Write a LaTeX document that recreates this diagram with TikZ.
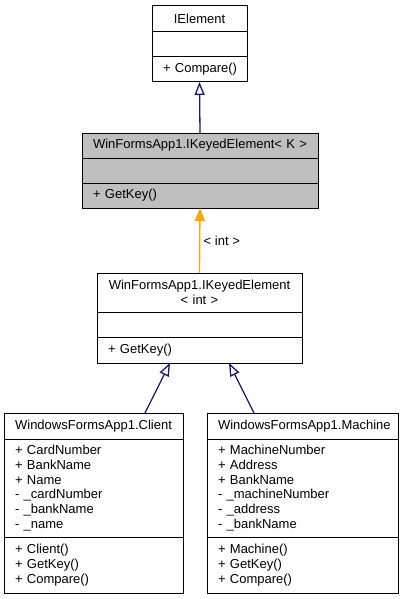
\documentclass[tikz,border=0pt]{standalone}
\usepackage{fontspec}
\setmainfont{Liberation Sans}
\usepackage{xcolor}
\usetikzlibrary{positioning, arrows.meta}
\definecolor{inheritblue}{HTML}{191970}
\definecolor{bindorange}{HTML}{FFA500}
\definecolor{tmplgray}{HTML}{BFBFBF}
\hyphenpenalty=10000

\begin{document}
\begin{tikzpicture}[x=1pt, y=-1pt, font=\fontsize{13}{14.7}\selectfont,
    box/.style={draw, fill=white, line width=1pt, outer sep=0pt, inner xsep=11pt, inner ysep=1pt, text width=#1},
    title/.style={box=#1, align=center},
    part/.style={box=#1, align=left},
    inherit/.style={draw=inheritblue, line width=1.3pt, -{Triangle[open, length=13pt, width=10pt]}},
    bind/.style={draw=bindorange, line width=1.3pt, -{Triangle[length=13pt, width=10pt]}}]
  \useasboundingbox (0,0) rectangle (408,599);

  % interface on top
  \node[title=73pt, minimum height=26pt, anchor=north] (ielem) at (199.5,6) {IElement};
  \node[part=73pt, minimum height=25pt, below=0pt of ielem] (ielemattr) {};
  \node[part=73pt, minimum height=25pt, below=0pt of ielemattr] (ielemops) {\mbox{+ Compare()}};

  % template
  \node[title=214pt, fill=tmplgray, minimum height=25pt, anchor=north] (ikeyk) at (200,133) {WinFormsApp1.IKeyedElement< K >};
  \node[part=214pt, fill=tmplgray, minimum height=25pt, below=0pt of ikeyk] (ikeykattr) {};
  \node[part=214pt, fill=tmplgray, minimum height=25pt, below=0pt of ikeykattr] (ikeykops) {+ GetKey()};

  % bound template
  \node[title=183pt, minimum height=39pt, anchor=north] (ikeyint) at (199.5,273) {WinFormsApp1.IKeyedElement\\< int >};
  \node[part=183pt, minimum height=25pt, below=0pt of ikeyint] (ikeyintattr) {};
  \node[part=183pt, minimum height=26pt, below=0pt of ikeyintattr] (ikeyintops) {+ GetKey()};

  % classes
  \node[title=157pt, minimum height=26pt, anchor=north] (client) at (93.5,413) {WindowsFormsApp1.Client};
  \node[part=157pt, minimum height=98pt, below=0pt of client] (clientattr) {+ CardNumber\\+ BankName\\+ Name\\- \_cardNumber\\- \_bankName\\- \_name};
  \node[part=157pt, minimum height=56pt, below=0pt of clientattr] (clientops) {+ Client()\\+ GetKey()\\+ Compare()};

  \node[title=169pt, minimum height=26pt, anchor=north] (machine) at (302.5,413) {WindowsFormsApp1.Machine};
  \node[part=169pt, minimum height=98pt, below=0pt of machine] (machineattr) {+ MachineNumber\\+ Address\\+ BankName\\- \_machineNumber\\- \_address\\- \_bankName};
  \node[part=169pt, minimum height=56pt, below=0pt of machineattr] (machineops) {+ Machine()\\+ GetKey()\\+ Compare()};

  \draw[inherit] (ikeyk.north) -- (ielemops.south);
  \draw[bind] (ikeyint.north) -- node[right] {< int >} (ikeykops.south);
  \draw[inherit] ([xshift=-38pt]client.north east) -- ([xshift=-29.5pt]ikeyintops.south);
  \draw[inherit] ([xshift=47pt]machine.north west) -- ([xshift=29.5pt]ikeyintops.south);
\end{tikzpicture}
\end{document}
